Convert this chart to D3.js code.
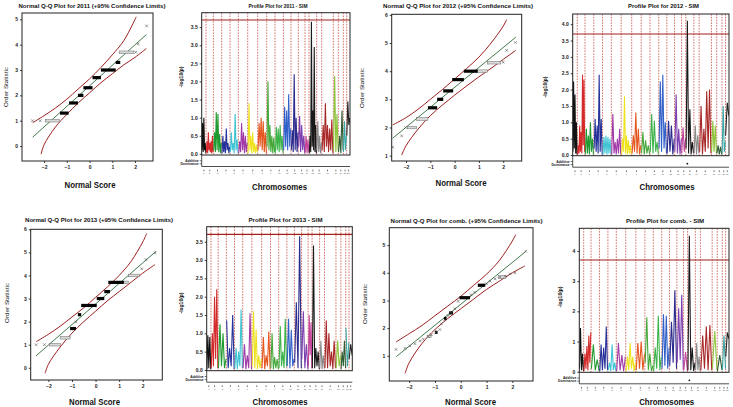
<!DOCTYPE html>
<html><head><meta charset="utf-8">
<script src="https://cdn.jsdelivr.net/npm/d3@7"></script>
<style>body{margin:0;background:#fff}svg{display:block}text{font-family:"Liberation Sans",Arial,sans-serif}</style>
</head><body><svg id="c" width="733" height="407"></svg>
<script>
// ---------- DATA ----------
const chromLabels = ["1","2","3","4","5","6","7","8","9","10","11","12","13","14","15","16","17","18","19","20","21"];
const chromLengths = [13,22,25,25,25,28,30,27,25,25,23,22,20,12,23,15,35,15,15,10,10];
const chromColors = ["#111111","#d42a2a","#1f9a30","#27339a","#40c4d4","#a03aa8","#eee21e","#e4561e","#45a83a","#3cb44a","#3060c8","#2c2a8c","#7b3fb0","#c3449a","#1a1a1a","#8a8a8a","#a82828","#8cc43a","#2e5e36","#3aa8a8","#222222"];
const threshold = 3.7;

const profile2011 = [
 [0.1,0.85,0.05,1.0,0.1,0.3,0.02],
 [0.05,0.35,0.02,0.6,0.1,0.3,0.05,0.35,0.02,0.5,0.05],
 [0.1,0.6,0.05,1.15,0.1,1.1,0.05,0.55,0.02,0.3],
 [0.02,0.5,0.05,0.35,0.02,0.7,0.1,0.3,0.02,0.2],
 [0.05,0.6,0.1,0.3,0.02,1.1,0.1,0.4,0.02],
 [0.02,0.35,0.05,0.85,0.1,0.6,0.02,0.5,0.05,0.3],
 [0.02,1.4,0.1,0.5,0.02,0.6,0.05,0.3,0.02,0.25,0.05],
 [0.1,0.85,0.2,1.0,0.1,0.9,0.05,0.6,0.02],
 [0.2,2.0,0.1,0.8,0.05,0.5,0.02,0.45,0.05],
 [0.02,0.75,0.1,0.7,0.05,0.8,0.1,0.5,0.02],
 [0.1,1.3,0.2,1.2,0.1,1.65,0.2,0.7],
 [0.1,0.65,0.05,2.2,0.1,1.0,0.05,0.6],
 [0.2,1.05,0.05,0.8,0.1,0.5,0.02],
 [0.05,0.5,0.02,0.4,0.05],
 [0.02,0.5,0.05,3.65,0.2,1.2,0.1,2.95,0.05,0.8,0.02],
 [0.1,0.9,0.05,0.5,0.02,0.3],
 [0.1,0.8,0.05,1.4,0.2,0.8,0.05,0.7,0.1,0.95,0.02],
 [0.1,2.15,0.05,1.1,0.1],
 [0.05,0.5,0.02,1.2,0.1],
 [0.05,0.9,0.1,0.5],
 [0.5,1.45,0.8,1.0]
];
const profile2012 = [
 [0.1,2.25,0.2,1.85,0.05,1.0,0.02],
 [0.02,0.3,0.05,0.9,0.1,0.7,0.05,2.45,0.3,2.3,0.1],
 [0.02,0.8,0.05,0.6,0.02,1.0,0.1,0.5,0.02],
 [0.2,1.1,0.1,0.9,0.05,2.45,0.1,1.1,0.02],
 [0.02,0.55,0.05,0.6,0.02,0.55,0.05,0.5,0.02],
 [0.02,1.25,0.05,0.4,0.02,0.5,0.05,0.8,0.02],
 [0.02,0.5,0.1,1.8,0.05,0.6,0.02,0.45,0.05,0.3,0.02],
 [0.05,0.6,0.1,1.3,0.05,0.8,0.02,0.3],
 [0.05,0.7,0.02,0.45,0.05,0.3,0.02],
 [0.1,1.25,0.05,1.05,0.1,0.4,0.02],
 [0.2,2.25,0.1,2.45,0.2,1.0,0.05],
 [0.05,1.05,0.1,0.9,0.02,0.5],
 [0.1,1.85,0.05,0.8,0.02,0.5],
 [0.05,0.85,0.1,0.5],
 [0.2,4.1,0.05,1.4,0.02,0.4,0.05],
 [0.05,0.9,0.02,0.6,0.05],
 [0.1,1.5,0.02,0.8,0.1,1.95,0.2,2.0,0.05],
 [0.1,1.05,0.1,0.9,0.05],
 [0.05,0.3,0.02,0.25,0.02],
 [0.05,1.5,0.1,0.4],
 [0.6,1.6,1.2]
];
const profile2013 = [
 [0.02,0.95,0.05,0.9,0.02],
 [0.05,1.0,0.1,2.0,0.3,2.2,0.05],
 [0.05,1.25,0.1,1.0,0.05,0.3],
 [1.35,0.05,0.6,0.1,1.5,0.02],
 [0.05,0.6,0.02,0.5,0.1,1.65,0.05],
 [0.05,0.7,0.02,0.4,0.05,1.55,0.02],
 [0.1,1.6,0.05,1.1,0.02,0.4,0.05,0.3],
 [0.05,0.9,0.02,0.4,0.1,1.05,0.02],
 [0.05,1.0,0.02,0.35,0.05,0.3,0.02],
 [0.05,1.2,0.1,0.5,0.05,1.4,0.1],
 [0.1,1.4,0.05,1.1,0.1,0.3],
 [0.2,1.85,0.05,3.65,0.05],
 [0.3,1.6,0.05,0.7,0.02],
 [0.1,1.5,0.4,1.3,0.05],
 [0.05,3.4,0.05,0.6,0.1,0.5,0.02],
 [0.05,0.8,0.02,0.4,0.05],
 [0.05,1.35,0.05,1.0,0.1,0.5,0.02,0.8,0.05],
 [0.05,0.8,0.1,0.4],
 [0.02,0.5,0.1,0.8,0.05],
 [1.15,0.1,0.75],
 [0.3,0.7,0.4]
];
const profileComb = [
 [0.1,1.45,0.05,0.6,0.02],
 [0.02,0.6,0.1,0.85,0.05,1.2,0.3,1.3],
 [0.1,0.9,0.05,0.4,0.02],
 [0.02,0.9,0.05,0.8,0.1,1.5,0.05],
 [0.05,0.3,0.02,0.9,0.05,0.3,0.02],
 [0.02,0.95,0.05,0.55,0.02,0.5],
 [0.02,0.5,0.05,0.95,0.1,0.5,0.02,0.3],
 [0.05,0.95,0.1,1.0,0.05,0.6],
 [0.3,1.8,0.05,0.6,0.02,0.2],
 [0.02,0.8,0.1,1.85,0.05,0.5],
 [0.1,1.9,0.2,1.85,0.1,0.8],
 [0.2,1.65,0.3,2.7,0.1],
 [0.3,2.1,0.4,2.55,0.05],
 [0.05,0.65,0.02],
 [0.05,4.5,0.05,0.8,0.02,0.3],
 [0.05,0.95,0.05,0.5,0.02],
 [0.05,1.2,0.1,1.5,0.05,1.55,0.05],
 [0.1,1.35,0.05],
 [0.02,0.55,0.05],
 [0.05,1.2,0.1],
 [0.5,1.3,1.1]
];
const sigChrom2012 = [15];
const sigChromComb = [15];

// Q-Q data: singles [score, value]; runs [value, scoreFrom, scoreTo]
const qq2011Singles = [[-2.51,1.0],[-2.17,1.0],[2.03,3.7],[2.14,4.03],[2.51,4.74]];
const qq2011Dense = [[1.3,-1.3,-0.92],[1.7,-0.9,-0.51],[2.0,-0.51,-0.27],[2.3,-0.27,0.13],[2.7,0.13,0.5],[3.0,0.5,1.15],[3.3,1.15,1.35]];
const qq2011Sparse = [[1.0,-1.95,-1.32],[3.7,1.3,1.95]];
const qq2011Line = [[-2.5,0.35],[2.5,4.4]];
const qq2011Upper = [[-2.5,0.92],[-2,1.2],[-1.5,1.5],[-1,1.85],[-0.5,2.25],[0,2.65],[0.5,3.1],[1,3.6],[1.5,4.15],[2,5.0],[2.05,5.1]];
const qq2011Lower = [[-2.13,-0.32],[-2,0.05],[-1.5,0.75],[-1,1.25],[-0.5,1.7],[0,2.1],[0.5,2.5],[1,2.85],[1.5,3.2],[2,3.5],[2.5,3.85]];

const qq2012Singles = [[-2.55,1.3],[-2.18,1.7],[-2.02,2.0],[2.0,4.32],[2.14,4.74],[2.5,5.02]];
const qq2012Dense = [[2.7,-1.1,-0.72],[3.0,-0.72,-0.47],[3.3,-0.47,-0.06],[3.7,-0.1,0.38],[4.0,0.38,0.95]];
const qq2012Sparse = [[2.0,-1.95,-1.56],[2.3,-1.56,-1.1],[4.0,0.95,1.34],[4.3,1.34,1.9]];
const qq2012Line = [[-2.55,1.62],[2.52,5.21]];
const qq2012Upper = [[-2.55,2.09],[-2,2.35],[-1.5,2.65],[-1,3.0],[-0.5,3.35],[0,3.72],[0.5,4.1],[1,4.5],[1.5,5.0],[2,5.6],[2.14,5.83]];
const qq2012Lower = [[-2.18,1.02],[-2,1.35],[-1.5,1.95],[-1,2.42],[-0.5,2.8],[0,3.15],[0.5,3.48],[1,3.8],[1.5,4.1],[2,4.42],[2.52,4.74]];

const qq2013Singles = [[-2.52,1.0],[-2.17,1.0],[-0.83,1.99],[1.96,4.29],[2.14,4.69],[2.52,4.98]];
const qq2013Dense = [[1.7,-1.08,-0.83],[2.3,-0.75,-0.61],[2.7,-0.61,0.05],[3.0,0.05,0.37],[3.3,0.37,0.61],[3.7,0.54,1.2]];
const qq2013Sparse = [[1.0,-1.95,-1.5],[1.3,-1.5,-1.08],[3.7,1.2,1.39],[4.0,1.39,1.86]];
const qq2013Line = [[-2.52,0.52],[2.57,5.05]];
const qq2013Upper = [[-2.52,1.13],[-2,1.45],[-1.5,1.8],[-1,2.2],[-0.5,2.6],[0,3.05],[0.5,3.5],[1,4.0],[1.5,4.6],[2,5.45],[2.17,5.82]];
const qq2013Lower = [[-2.14,-0.24],[-2,0.15],[-1.5,0.9],[-1,1.5],[-0.5,2.0],[0,2.45],[0.5,2.9],[1,3.3],[1.5,3.7],[2,4.1],[2.52,4.47]];

const qqCombSingles = [[-2.51,1.23],[-2.16,1.27],[-1.97,1.36],[-1.78,1.44],[-1.58,1.54],[-1.45,1.6],[-1.26,1.7],[-1.14,1.76],[-0.97,1.85],[-0.81,1.95],[-0.75,2.15],[-0.62,2.3],[-0.49,2.45],[-0.36,2.55],[-0.23,2.7],[-0.1,2.97],[0.4,3.2],[0.53,3.3],[1.0,3.6],[1.14,3.7],[1.33,3.78],[1.52,3.84],[1.72,3.87],[1.91,3.96],[2.1,4.0],[2.52,4.78]];
const qqCombDense = [[3.1,-0.05,0.36],[3.55,0.66,0.95],[2.55,-0.45,-0.3],[2.35,-0.65,-0.55],[1.85,-1.0,-0.9]];
const qqCombSparse = [[1.7,-1.3,-1.15],[3.85,1.45,1.75]];
const qqCombLine = [[-2.5,0.97],[2.52,4.77]];
const qqCombUpper = [[-2.51,1.5],[-2,1.8],[-1.5,2.1],[-1,2.45],[-0.5,2.8],[0,3.15],[0.5,3.55],[1,3.95],[1.5,4.45],[2,5.15],[2.13,5.38]];
const qqCombLower = [[-2.16,0.36],[-2,0.75],[-1.5,1.45],[-1,1.95],[-0.5,2.35],[0,2.7],[0.5,3.05],[1,3.4],[1.5,3.7],[2,4.0],[2.49,4.25]];

// ---------- DRAWING ----------
const svg = d3.select("#c");
const FONT = '"Liberation Sans",Arial,sans-serif';

function txt(x, y, s, size, w, rot, weight) {
  const t = svg.append("text")
    .attr("x", x).attr("y", y)
    .attr("text-anchor", "middle").attr("dominant-baseline", "central")
    .attr("font-size", size).attr("font-weight", weight || "bold").attr("fill", "#111")
    .text(s);
  if (w) t.attr("textLength", w).attr("lengthAdjust", "spacingAndGlyphs");
  if (rot) t.attr("transform", `rotate(-90,${x},${y})`);
  return t;
}

function styleAxis(g) {
  g.selectAll("path").attr("stroke", "#111").attr("stroke-width", 0.8);
  g.selectAll("line").attr("stroke", "#111").attr("stroke-width", 0.8);
  g.selectAll("text").attr("font-size", 5).attr("font-weight", "bold").attr("font-family", FONT).attr("fill", "#222");
}

function qqPanel(cfg, singles, dense, sparse, refLine, upper, lower) {
  const x = d3.scaleLinear().domain(cfg.xDom).range([cfg.l, cfg.r]);
  const y = d3.scaleLinear().domain(cfg.yDom).range([cfg.b, cfg.t]);
  const clipId = "clip" + cfg.id;
  svg.append("clipPath").attr("id", clipId).append("rect")
    .attr("x", cfg.l).attr("y", cfg.t).attr("width", cfg.r - cfg.l).attr("height", cfg.b - cfg.t);
  const g = svg.append("g").attr("clip-path", `url(#${clipId})`);
  const ln = d3.line().x(d => x(d[0])).y(d => y(d[1])).curve(d3.curveCatmullRom);
  [upper, lower].forEach(b => g.append("path").attr("d", ln(b)).attr("fill", "none").attr("stroke", "#9b1f1f").attr("stroke-width", 1));
  g.append("path").attr("d", d3.line().x(d => x(d[0])).y(d => y(d[1]))(refLine))
    .attr("fill", "none").attr("stroke", "#2f6b3a").attr("stroke-width", 0.9);
  g.selectAll(null).data(sparse).enter().append("rect")
    .attr("x", d => x(d[1])).attr("width", d => x(d[2]) - x(d[1]))
    .attr("y", d => y(d[0]) - 1.3).attr("height", 2.6)
    .attr("fill", "#d8d8d8").attr("stroke", "#6a6a6a").attr("stroke-width", 0.5);
  g.selectAll(null).data(dense).enter().append("rect")
    .attr("x", d => x(d[1])).attr("width", d => x(d[2]) - x(d[1]))
    .attr("y", d => y(d[0]) - 1.6).attr("height", 3.2).attr("fill", "#000");
  const s = 1.3;
  singles.forEach(d => {
    const cx = x(d[0]), cy = y(d[1]);
    g.append("path").attr("d", `M${cx-s},${cy-s}L${cx+s},${cy+s}M${cx-s},${cy+s}L${cx+s},${cy-s}`)
      .attr("stroke", "#555").attr("stroke-width", 0.6);
  });
  svg.append("rect").attr("x", cfg.l).attr("y", cfg.t).attr("width", cfg.r - cfg.l).attr("height", cfg.b - cfg.t)
    .attr("fill", "none").attr("stroke", "#222").attr("stroke-width", 1);
  const ax = svg.append("g").attr("transform", `translate(0,${cfg.b})`)
    .call(d3.axisBottom(x).tickValues(cfg.xTicks).tickSize(2).tickPadding(2).tickFormat(d3.format("d")));
  styleAxis(ax); ax.select("path").remove();
  const ay = svg.append("g").attr("transform", `translate(${cfg.l},0)`)
    .call(d3.axisLeft(y).tickValues(cfg.yTicks).tickSize(2).tickPadding(2).tickFormat(d3.format("d")));
  styleAxis(ay); ay.select("path").remove();
  txt(cfg.title.x, cfg.title.y, cfg.title.text, 6, cfg.title.w);
  txt(cfg.xlab.x, cfg.xlab.y, "Normal Score", 9.5, 51);
  txt(cfg.ylab.x, cfg.ylab.y, "Order Statistic", 5.5, 40, true, "normal");
}

const chromStarts = [];
chromLengths.reduce((a, L, i) => { chromStarts[i] = a; return a + L; }, 0);
const genomeLen = d3.sum(chromLengths);

function profilePanel(cfg, data, sig) {
  const x = d3.scaleLinear().domain([0, genomeLen]).range([cfg.l, cfg.r]);
  const y = d3.scaleLinear().domain(cfg.yDom).range([cfg.b, cfg.t]);
  const clipId = "clip" + cfg.id;
  svg.append("clipPath").attr("id", clipId).append("rect")
    .attr("x", cfg.l).attr("y", cfg.t).attr("width", cfg.r - cfg.l).attr("height", cfg.b - cfg.t);
  const g = svg.append("g").attr("clip-path", `url(#${clipId})`);
  g.selectAll(null).data(chromStarts.slice(1)).enter().append("line")
    .attr("x1", d => x(d)).attr("x2", d => x(d)).attr("y1", cfg.t).attr("y2", cfg.b)
    .attr("stroke", "#c0392b").attr("stroke-width", 0.7).attr("stroke-dasharray", "1.6,1.2");
  g.append("line").attr("x1", cfg.l).attr("x2", cfg.r).attr("y1", y(threshold)).attr("y2", y(threshold))
    .attr("stroke", "#a0201c").attr("stroke-width", 1.1);
  const pos = (c, i, n) => chromStarts[c] + chromLengths[c] * (0.04 + 0.92 * i / (n - 1));
  data.forEach((vals, c) => {
    const pts = vals.map((v, i) => [pos(c, i, vals.length), v]);
    g.append("path").attr("d", d3.line().x(d => x(d[0])).y(d => y(d[1]))(pts))
      .attr("fill", "none").attr("stroke", chromColors[c]).attr("stroke-width", 1.1)
      .attr("stroke-linejoin", "miter");
  });
  svg.append("rect").attr("x", cfg.l).attr("y", cfg.t).attr("width", cfg.r - cfg.l).attr("height", cfg.b - cfg.t)
    .attr("fill", "none").attr("stroke", "#222").attr("stroke-width", 1);
  const ay = svg.append("g").attr("transform", `translate(${cfg.l},0)`)
    .call(d3.axisLeft(y).tickValues(cfg.yTicks).tickSize(2).tickPadding(2).tickFormat(d3.format(cfg.fmt)));
  styleAxis(ay); ay.select("path").remove();
  const sb = cfg.b + 11.5;
  svg.append("line").attr("x1", cfg.l).attr("x2", cfg.l).attr("y1", cfg.b).attr("y2", sb).attr("stroke", "#222").attr("stroke-width", 0.8);
  svg.append("line").attr("x1", cfg.l).attr("x2", cfg.r).attr("y1", sb).attr("y2", sb).attr("stroke", "#222").attr("stroke-width", 0.8);
  [["Additive", cfg.b + 5.8], ["Dominance", cfg.b + 8.8]].forEach(([s, yy]) => {
    svg.append("line").attr("x1", cfg.l - 2).attr("x2", cfg.l).attr("y1", yy).attr("y2", yy).attr("stroke", "#222").attr("stroke-width", 0.6);
    svg.append("text").attr("x", cfg.l - 3).attr("y", yy).attr("text-anchor", "end").attr("dominant-baseline", "central")
      .attr("font-size", 3.4).attr("font-weight", "bold").attr("fill", "#222").text(s);
  });
  (sig || []).forEach(ch => {
    const c = ch - 1, vals = data[c];
    const iMax = d3.maxIndex(vals);
    svg.append("circle").attr("cx", x(pos(c, iMax, vals.length))).attr("cy", cfg.b + 8).attr("r", 0.9).attr("fill", "#111");
  });
  const tg = svg.append("g");
  chromLabels.forEach((lab, c) => {
    const cx = x(chromStarts[c] + chromLengths[c] / 2);
    tg.append("line").attr("x1", cx).attr("x2", cx).attr("y1", sb + 3).attr("y2", sb + 5).attr("stroke", "#333").attr("stroke-width", 0.6);
    tg.append("text").attr("x", cx).attr("y", sb + 6.5).attr("text-anchor", "middle").attr("dominant-baseline", "central")
      .attr("font-size", 2.2).attr("fill", "#444").text(lab);
  });
  txt(cfg.title.x, cfg.title.y, cfg.title.text, 6, cfg.title.w);
  txt(cfg.xlab.x, cfg.xlab.y, "Chromosomes", 9.5, 55);
  txt(cfg.ylab.x, cfg.ylab.y, "-log10(p)", 6, 21, true);
}

const halfTicks35 = [0,0.5,1,1.5,2,2.5,3,3.5];
const halfTicks40 = [0,0.5,1,1.5,2,2.5,3,3.5,4];

qqPanel({id:1,l:22,r:153,t:13,b:161,xDom:[-2.97,2.79],yDom:[-0.59,5.25],xTicks:[-2,-1,0,1,2],yTicks:[0,1,2,3,4,5],
  title:{x:92,y:5.5,w:147,text:"Normal Q-Q Plot for 2011 (+95% Confidence Limits)"},xlab:{x:90,y:184},ylab:{x:6,y:87}},
  qq2011Singles, qq2011Dense, qq2011Sparse, qq2011Line, qq2011Upper, qq2011Lower);
qqPanel({id:3,l:391.7,r:521.7,t:14.3,b:161,xDom:[-2.59,2.76],yDom:[0.81,6.02],xTicks:[-2,-1,0,1,2],yTicks:[1,2,3,4,5,6],
  title:{x:458,y:5.5,w:150,text:"Normal Q-Q Plot for 2012 (+95% Confidence Limits)"},xlab:{x:461,y:182},ylab:{x:362,y:88}},
  qq2012Singles, qq2012Dense, qq2012Sparse, qq2012Line, qq2012Upper, qq2012Lower);
qqPanel({id:5,l:30.7,r:162.3,t:229.3,b:380,xDom:[-2.75,2.83],yDom:[-0.53,6.0],xTicks:[-2,-1,0,1,2],yTicks:[0,1,2,3,4,5,6],
  title:{x:99,y:220,w:148,text:"Normal Q-Q Plot for 2013 (+95% Confidence Limits)"},xlab:{x:94.5,y:401.5},ylab:{x:7,y:303}},
  qq2013Singles, qq2013Dense, qq2013Sparse, qq2013Line, qq2013Upper, qq2013Lower);
qqPanel({id:7,l:389.3,r:533,t:227.7,b:381,xDom:[-2.77,2.8],yDom:[0.09,5.63],xTicks:[-2,-1,0,1,2],yTicks:[1,2,3,4,5],
  title:{x:466.5,y:220.7,w:152,text:"Normal Q-Q Plot for comb. (+95% Confidence Limits)"},xlab:{x:470.5,y:401.5},ylab:{x:365,y:304}},
  qqCombSingles, qqCombDense, qqCombSparse, qqCombLine, qqCombUpper, qqCombLower);

profilePanel({id:2,l:201.7,r:350,t:12.7,b:155,yDom:[-0.03,3.9],yTicks:halfTicks35,fmt:".1f",
  title:{x:278,y:5.5,w:59,text:"Profile Plot for 2011 - SIM"},xlab:{x:279.5,y:186.7},ylab:{x:181,y:77}}, profile2011, []);
profilePanel({id:4,l:572.7,r:729,t:14,b:155.7,yDom:[-0.02,4.31],yTicks:halfTicks40,fmt:".1f",
  title:{x:663.5,y:5.5,w:71,text:"Profile Plot for 2012 - SIM"},xlab:{x:667,y:186.7},ylab:{x:545,y:87}}, profile2012, sigChrom2012);
profilePanel({id:6,l:206.7,r:352.3,t:226.7,b:370.7,yDom:[-0.02,3.91],yTicks:halfTicks35,fmt:".1f",
  title:{x:285.5,y:220,w:74,text:"Profile Plot for 2013 - SIM"},xlab:{x:280,y:401.5},ylab:{x:181,y:303}}, profile2013, []);
profilePanel({id:8,l:579.3,r:729,t:228.3,b:372.3,yDom:[-0.02,4.75],yTicks:[0,1,2,3,4],fmt:"d",
  title:{x:665,y:220.7,w:78,text:"Profile Plot for comb. - SIM"},xlab:{x:666.7,y:401.5},ylab:{x:560,y:297}}, profileComb, sigChromComb);
</script>
</body></html>
